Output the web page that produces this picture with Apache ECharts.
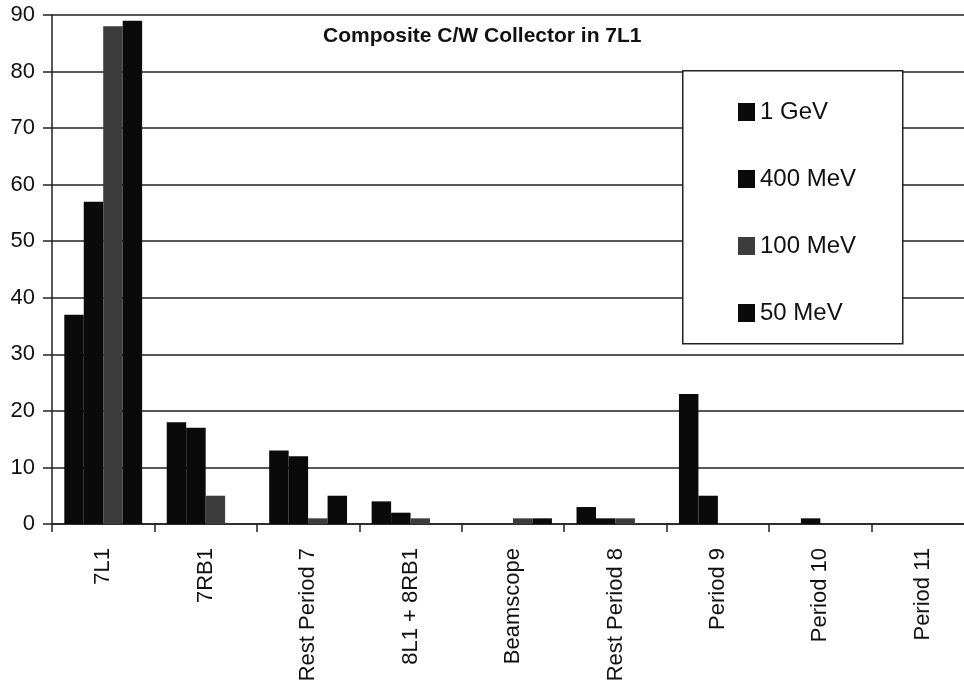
<!DOCTYPE html>
<html>
<head>
<meta charset="utf-8">
<script src="https://cdn.jsdelivr.net/npm/echarts@6/dist/echarts.min.js"></script>
<style>
html,body{margin:0;padding:0;background:#fff;}
#chart{width:964px;height:692px;}
</style>
</head>
<body>
<div id="chart"></div>
<script>
const categories = ['7L1', '7RB1', 'Rest Period 7', '8L1 + 8RB1', 'Beamscope', 'Rest Period 8', 'Period 9', 'Period 10', 'Period 11'];
const gev1   = [37, 18, 13, 4, 0, 3, 23, 0, 0];
const mev400 = [57, 17, 12, 2, 0, 1, 5, 1, 0];
const mev100 = [88, 5, 1, 1, 1, 1, 0, 0, 0];
const mev50  = [89, 0, 5, 0, 1, 0, 0, 0, 0];
const yTicks = [0, 10, 20, 30, 40, 50, 60, 70, 80, 90];

const chart = echarts.init(document.getElementById('chart'));
const ink = '#111';
const font = 'Arial, "Liberation Sans", Helvetica, sans-serif';
function bar(name, data, color) {
  return { name: name, type: 'bar', data: data, barGap: '0%', barCategoryGap: '24%',
    itemStyle: { color: color }, animation: false };
}
chart.setOption({
  animation: false,
  backgroundColor: '#fff',
  title: {
    text: 'Composite C/W Collector in 7L1',
    left: 318, top: 21,
    textStyle: { fontFamily: font, fontSize: 21, fontWeight: 'bold', color: ink }
  },
  grid: { left: 52, top: 15, width: 922, height: 509, containLabel: false, outerBoundsMode: 'none' },
  graphic: [{
    type: 'rect', left: 682, top: 70, z: 5,
    shape: { width: 220, height: 273 },
    style: { fill: '#fff', stroke: '#222', lineWidth: 1.5 }
  }],
  legend: {
    orient: 'vertical', left: 733, top: 95, z: 10,
    itemWidth: 17, itemHeight: 18, itemGap: 43,
    icon: 'rect',
    textStyle: { fontFamily: font, fontSize: 24, color: ink, padding: [0, 0, 0, 0] },
    data: ['1 GeV', '400 MeV', '100 MeV', '50 MeV']
  },
  xAxis: {
    type: 'category', data: categories,
    axisLine: { lineStyle: { color: '#222', width: 1.5 } },
    axisTick: { show: true, length: 8, lineStyle: { color: '#222', width: 1.5 } },
    axisLabel: { rotate: 90, margin: 24, fontFamily: font, fontSize: 22, color: ink, interval: 0 }
  },
  yAxis: {
    type: 'value', min: yTicks[0], max: yTicks[yTicks.length - 1], interval: 10,
    name: '%', nameLocation: 'middle', nameGap: 28, nameRotate: 90,
    nameTextStyle: { fontFamily: font, fontSize: 16, fontWeight: 'bold', color: ink },
    axisLine: { show: true, lineStyle: { color: '#222', width: 1.5 } },
    axisTick: { show: true, length: 9, lineStyle: { color: '#222', width: 1.5 } },
    axisLabel: { margin: 17, fontFamily: font, fontSize: 22, color: ink },
    splitLine: { show: true, lineStyle: { color: '#222', width: 1.5 } }
  },
  series: [
    bar('1 GeV', gev1, '#0a0a0a'),
    bar('400 MeV', mev400, '#0a0a0a'),
    bar('100 MeV', mev100, '#3c3c3c'),
    bar('50 MeV', mev50, '#0a0a0a')
  ]
});
</script>
</body>
</html>
